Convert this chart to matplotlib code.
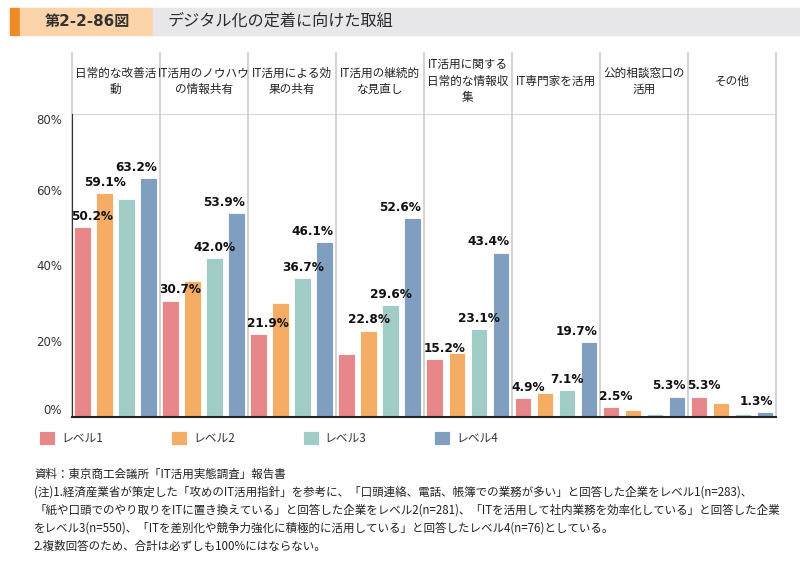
import matplotlib
matplotlib.use('Agg')
import matplotlib.pyplot as plt
import numpy as np
from matplotlib.patches import Rectangle

plt.rcParams['font.family'] = ['Noto Sans CJK JP', 'DejaVu Sans']

# data
categories = ['日常的な改善活\n動', 'IT活用のノウハウ\nの情報共有', 'IT活用による効\n果の共有',
              'IT活用の継続的\nな見直し', 'IT活用に関する\n日常的な情報収\n集', 'IT専門家を活用',
              '公的相談窓口の\n活用', 'その他']
levels = ['レベル1', 'レベル2', 'レベル3', 'レベル4']
lv1 = [50.2, 30.7, 21.9, 16.6, 15.2, 4.9, 2.5, 5.3]
lv2 = [59.1, 36.0, 30.2, 22.8, 16.9, 6.2, 1.8, 3.5]
lv3 = [57.7, 42.0, 36.7, 29.6, 23.1, 7.1, 0.7, 0.8]
lv4 = [63.2, 53.9, 46.1, 52.6, 43.4, 19.7, 5.3, 1.3]
# which bars carry a value label
show1 = [1, 1, 1, 0, 1, 1, 1, 1]
show2 = [1, 0, 0, 1, 0, 0, 0, 0]
show3 = [0, 1, 1, 1, 1, 1, 0, 0]
show4 = [1, 1, 1, 1, 1, 1, 1, 1]
yticks = [0, 20, 40, 60, 80]

colors = ['#E8878A', '#F5AC64', '#9FCDC6', '#7F9EC0']
series = [lv1, lv2, lv3, lv4]
shows = [show1, show2, show3, show4]

fig = plt.figure(figsize=(8, 5.62), dpi=100)

# header band
fig.patches.append(Rectangle((10/800, 1-35/562), 10/800, 27/562, transform=fig.transFigure,
                             color='#F08A24', zorder=0))
fig.patches.append(Rectangle((20/800, 1-35/562), 133/800, 27/562, transform=fig.transFigure,
                             color='#FDD3AA', zorder=0))
fig.patches.append(Rectangle((153/800, 1-35/562), 647/800, 27/562, transform=fig.transFigure,
                             color='#E7E7E9', zorder=0))
fig.text(87/800, 1-21.5/562, '第2-2-86図', ha='center', va='center', fontsize=10.9,
         fontweight='bold', color='#333333', family=['DejaVu Sans', 'Noto Sans CJK JP'])
fig.text(168/800, 1-21.5/562, 'デジタル化の定着に向けた取組', ha='left', va='center',
         fontsize=11.6, color='#2a2a2a')

# 0% at y=416.7px, 80% at y=114.3px
ax = fig.add_axes([71.7/800, (562-416.7)/562, (776-71.7)/800, (416.7-114.3)/562])
x = np.arange(len(categories))
w = 0.19
offs = [-0.375, -0.125, 0.125, 0.375]
for k in range(4):
    bars = ax.bar(x + offs[k], series[k], w, color=colors[k], edgecolor='white',
                  linewidth=0.6, label=levels[k], zorder=3)
    for i, b in enumerate(bars):
        if not shows[k][i]:
            continue
        if k == 0:
            xt, ha = b.get_x() - 0.035, 'left'
        elif k == 3:
            xt, ha = b.get_x() + b.get_width(), 'right'
        else:
            xt, ha = b.get_x() + b.get_width() / 2, 'center'
        ax.annotate(f'{series[k][i]:.1f}%', (xt, series[k][i]), xytext=(0, 3),
                    textcoords='offset points', ha=ha, va='bottom', fontsize=8.7,
                    fontweight='bold', family='DejaVu Sans', color='#111111', zorder=5)

ax.set_xlim(-0.5, len(categories) - 0.5)
ax.set_ylim(0, 80)
ax.set_yticks(yticks)
ax.set_yticklabels([f'{t}%' for t in yticks], family='DejaVu Sans', fontsize=8.5, color='#333333')
tl = ax.get_yticklabels()
tl[0].set_va('bottom')
tl[-1].set_va('top')
ax.set_xticks([])
ax.tick_params(axis='y', length=0, pad=7)
for s in ['top', 'right']:
    ax.spines[s].set_visible(False)
ax.spines['left'].set_color('#333333')
ax.spines['bottom'].set_color('#222222')
ax.spines['bottom'].set_linewidth(1.5)
ax.spines['bottom'].set_zorder(4)
ax.spines['left'].set_zorder(4)

# table-like header with vertical separators
top = 80 + (114.3 - 52) / 3.78
ax.vlines(np.arange(len(categories) + 1) - 0.5, 0, top, colors='#D3D3D3', linewidth=1.5,
          clip_on=False, zorder=1)
ax.hlines(80, -0.5, len(categories) - 0.5, colors='#D3D3D3', linewidth=1.5, zorder=1)
for i, c in enumerate(categories):
    ax.text(i, (80 + top) / 2 + 0.5, c, ha='center', va='center', fontsize=8.4, color='#222222',
            linespacing=1.35, clip_on=False)

fig.legend(loc='center left', bbox_to_anchor=(39.3/800, 1-438/562), ncol=4, frameon=False,
           fontsize=8.5, handlelength=1.36, handleheight=1.36, handletextpad=0.5,
           columnspacing=5.75, borderpad=0, borderaxespad=0, labelcolor='#333333')

notes = ['資料：東京商工会議所「IT活用実態調査」報告書',
         '(注)1.経済産業省が策定した「攻めのIT活用指針」を参考に、「口頭連絡、電話、帳簿での業務が多い」と回答した企業をレベル1(n=283)、',
         '「紙や口頭でのやり取りをITに置き換えている」と回答した企業をレベル2(n=281)、「ITを活用して社内業務を効率化している」と回答した企業',
         'をレベル3(n=550)、「ITを差別化や競争力強化に積極的に活用している」と回答したレベル4(n=76)としている。',
         '2.複数回答のため、合計は必ずしも100%にはならない。']
for j, t in enumerate(notes):
    fig.text(34/800, 1-(474 + 18*j)/562, t, ha='left', va='center', fontsize=8.3,
             color='#222222')

fig.savefig('out.png', dpi=100)
